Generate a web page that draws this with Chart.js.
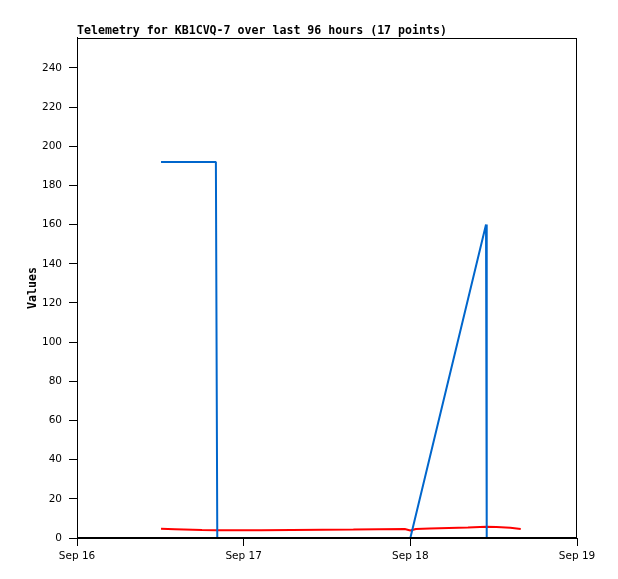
<!DOCTYPE html>
<html>
<head>
<meta charset="utf-8">
<script src="https://cdn.jsdelivr.net/npm/chart.js@4/dist/chart.umd.min.js"></script>
<style>
  html, body { margin: 0; padding: 0; background: #fff; }
  canvas { display: block; }
</style>
</head>
<body>
<canvas id="telemetry" width="618" height="579"></canvas>
<script>
// hours since Sep 16 00:00
const dayLabels = ['Sep 16', 'Sep 17', 'Sep 18', 'Sep 19'];
const xTicks = [0, 24, 48, 72];
const yTicks = [0, 20, 40, 60, 80, 100, 120, 140, 160, 180, 200, 220, 240];

const blueHours = [12.1, 20.0, 20.2, 48.0, 58.9, 59.0, 63.9];
const blueValues = [192, 192, 0, 0, 160, 0, 0];

const redHours = [12.1, 14.1, 18.0, 20.0, 26.5, 39.8, 47.2, 48.0, 48.8, 50.8, 56.3, 58.9, 60.4, 62.4, 63.9];
const redValues = [4.7, 4.5, 4.1, 4.0, 4.0, 4.3, 4.6, 3.8, 4.6, 4.8, 5.3, 5.8, 5.6, 5.2, 4.6];

const blackHours = [12.1, 63.9];
const blackValues = [0, 0];

const toPoints = (xs, ys) => xs.map((x, i) => ({ x: x, y: ys[i] }));

const smallFont = { family: '"DejaVu Sans", sans-serif', size: 10.5 };
const boldMono = { family: '"DejaVu Sans Mono", monospace', size: 11.6, weight: 'bold' };

// box round the plot area (top and right sides)
const plotFrame = {
  id: 'plotFrame',
  afterDraw(chart) {
    const { ctx, chartArea: a } = chart;
    ctx.save();
    ctx.strokeStyle = '#000';
    ctx.lineWidth = 1;
    ctx.strokeRect(Math.round(a.left) + 0.5, Math.round(a.top) + 0.5,
      Math.round(a.right - a.left) - 1, Math.round(a.bottom - a.top) - 1);
    ctx.restore();
  }
};

new Chart(document.getElementById('telemetry'), {
  type: 'line',
  data: {
    datasets: [
      { data: toPoints(blackHours, blackValues), borderColor: '#000000', borderWidth: 2 },
      { data: toPoints(blueHours, blueValues), borderColor: '#0066cc', borderWidth: 2 },
      { data: toPoints(redHours, redValues), borderColor: '#ff0000', borderWidth: 2 }
    ]
  },
  options: {
    responsive: false,
    animation: false,
    layout: { padding: { left: 0, right: 41, top: 0, bottom: 0 } },
    elements: {
      point: { radius: 0, hoverRadius: 0 },
      line: { tension: 0, fill: false, borderJoinStyle: 'bevel' }
    },
    plugins: {
      legend: { display: false },
      tooltip: { enabled: false },
      title: {
        display: true,
        text: 'Telemetry for KB1CVQ-7 over last 96 hours (17 points)',
        align: 'start',
        fullSize: false,
        color: '#000',
        font: boldMono,
        padding: { top: 24, bottom: 0 }
      }
    },
    scales: {
      x: {
        type: 'linear',
        min: 0,
        max: 72,
        afterBuildTicks: (scale) => { scale.ticks = xTicks.map(v => ({ value: v })); },
        afterFit: (scale) => { scale.height = 41; },
        ticks: {
          color: '#000',
          font: smallFont,
          padding: 4,
          maxRotation: 0,
          callback: (v) => dayLabels[xTicks.indexOf(v)]
        },
        grid: { drawOnChartArea: false, tickLength: 8, color: '#000' },
        border: { color: '#000', width: 1 }
      },
      y: {
        min: 0,
        max: 255.3,
        afterBuildTicks: (scale) => { scale.ticks = yTicks.map(v => ({ value: v })); },
        afterFit: (scale) => { scale.width = 77; },
        ticks: { color: '#000', font: smallFont, padding: 7 },
        grid: { drawOnChartArea: false, tickLength: 8, color: '#000' },
        border: { color: '#000', width: 1 },
        title: {
          display: true,
          text: 'Values',
          color: '#000',
          font: boldMono,
          padding: { top: 26, bottom: 0 }
        }
      }
    }
  },
  plugins: [plotFrame]
});
</script>
</body>
</html>
